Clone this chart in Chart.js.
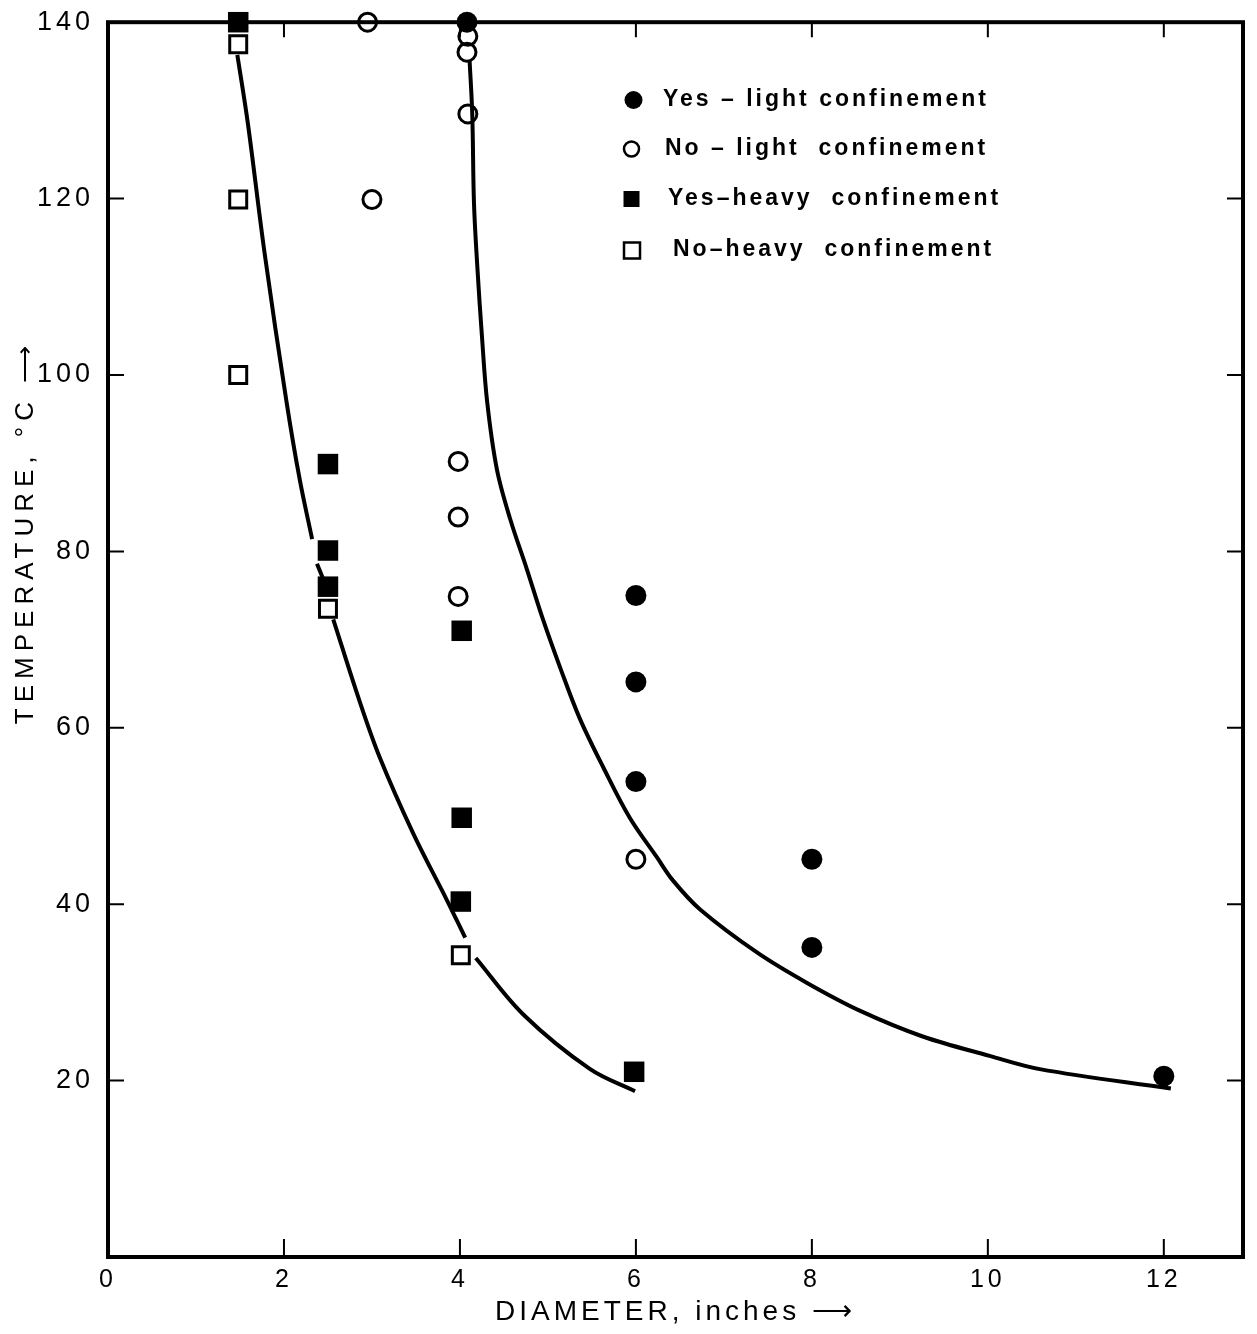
<!DOCTYPE html>
<html><head><meta charset="utf-8">
<script src="https://cdn.jsdelivr.net/npm/chart.js@4/dist/chart.umd.min.js"></script>
<style>html,body{margin:0;padding:0;background:#fff}</style>
</head><body>
<canvas id="c" width="1257" height="1334"></canvas>
<script>
// ---- data ----
const xTickValues = [0, 2, 4, 6, 8, 10, 12];
const yTickValues = [20, 40, 60, 80, 100, 120, 140];

const yesLightX = [4.08, 6.0, 6.0, 6.0, 8.0, 8.0, 12.0];
const yesLightY = [140, 75, 65.2, 53.9, 45.1, 35.1, 20.5];

const noLightX = [2.95, 4.09, 4.08, 4.09, 3.0, 3.98, 3.98, 3.98, 6.0];
const noLightY = [140, 138.4, 136.6, 129.6, 119.9, 90.2, 83.9, 74.9, 45.1];

const yesHeavyX = [1.48, 2.5, 2.5, 2.5, 4.02, 4.02, 4.01, 5.98];
const yesHeavyY = [140, 89.9, 80.1, 76.0, 71.0, 49.8, 40.3, 21.0];

const noHeavyX = [1.48, 1.48, 1.48, 2.5, 4.01];
const noHeavyY = [137.5, 119.9, 100.0, 73.5, 34.2];

// fitted curves as drawn (null = break in the drawn line)
const lowerCurveX = [1.47, 1.59, 1.78, 2.03, 2.18, 2.32, 2.35, 2.375, 2.44, 2.50, 2.56, 2.86, 3.09, 3.47, 3.85, 4.06, 4.12, 4.18, 4.72, 5.48, 5.99];
const lowerCurveY = [136.3, 128.5, 113.8, 96.9, 88.1, 81.4, null, 78.6, 77.0, null, 72.3, 63.0, 56.6, 48.0, 40.5, 36.2, null, 33.9, 27.5, 21.3, 18.8];

const upperCurveX = [4.11, 4.14, 4.16, 4.20, 4.25, 4.31, 4.42, 4.57, 4.76, 4.94, 5.14, 5.36, 5.63, 5.93, 6.24, 6.42, 6.73, 7.38, 7.94, 8.55, 9.26, 10.02, 10.59, 12.08];
const upperCurveY = [135.6, 129.6, 119.4, 111.9, 104.4, 96.9, 89.3, 83.7, 78.0, 72.4, 66.8, 61.1, 55.5, 49.8, 45.3, 42.7, 39.4, 34.5, 31.1, 27.9, 25.0, 22.8, 21.3, 19.1];

const seriesLabels = ["Yes \u2013 light confinement", "No \u2013 light  confinement", "Yes\u2013heavy  confinement", "No\u2013heavy  confinement"];
const xTitle = "DIAMETER, inches \u27F6";
const yTitle = "TEMPERATURE, \u00B0C \u27F6";

// ---- build datasets ----
const pts = (xs, ys) => xs.map((x, i) => ({x: x, y: ys[i]}));
const FONT = "'Liberation Sans', Arial, sans-serif";

const datasets = [
  {label: seriesLabels[0], data: pts(yesLightX, yesLightY), pointStyle: 'circle', pointRadius: 10.5,
   backgroundColor: '#000', borderColor: '#000', borderWidth: 0, showLine: false, clip: false},
  {label: seriesLabels[1], data: pts(noLightX, noLightY), pointStyle: 'circle', pointRadius: 9,
   backgroundColor: 'rgba(0,0,0,0)', borderColor: '#000', borderWidth: 3, showLine: false, clip: false},
  {label: seriesLabels[2], data: pts(yesHeavyX, yesHeavyY), pointStyle: 'rect', pointRadius: 14.5,
   backgroundColor: '#000', borderColor: '#000', borderWidth: 0, showLine: false, clip: false},
  {label: seriesLabels[3], data: pts(noHeavyX, noHeavyY), pointStyle: 'rect', pointRadius: 12,
   backgroundColor: 'rgba(0,0,0,0)', borderColor: '#000', borderWidth: 3, showLine: false, clip: false},
  {label: 'lower', data: pts(lowerCurveX, lowerCurveY), showLine: true, spanGaps: false, pointRadius: 0,
   borderColor: '#000', borderWidth: 4, tension: 0.35, fill: false},
  {label: 'upper', data: pts(upperCurveX, upperCurveY), showLine: true, pointRadius: 0,
   borderColor: '#000', borderWidth: 4, tension: 0.35, fill: false}
];

const framePlugin = {
  id: 'frame',
  beforeDraw(chart) {
    chart.ctx.letterSpacing = '4px';
  },
  afterDraw(chart) {
    const ctx = chart.ctx, a = chart.chartArea;
    const xs = chart.scales.x, ys = chart.scales.y;
    ctx.save();
    ctx.letterSpacing = '0px';
    ctx.strokeStyle = '#000';
    ctx.lineWidth = 4;
    ctx.strokeRect(a.left, a.top, a.right - a.left, a.bottom - a.top);
    ctx.lineWidth = 2;
    ctx.beginPath();
    xTickValues.forEach(v => {
      if (v === 0) return;
      const px = xs.getPixelForValue(v);
      ctx.moveTo(px, a.bottom); ctx.lineTo(px, a.bottom - 18);
      ctx.moveTo(px, a.top); ctx.lineTo(px, a.top + 15);
    });
    yTickValues.forEach(v => {
      const py = ys.getPixelForValue(v);
      ctx.moveTo(a.left, py); ctx.lineTo(a.left + 16, py);
      ctx.moveTo(a.right, py); ctx.lineTo(a.right - 16, py);
    });
    ctx.stroke();

    // legend
    const lx = xs.getPixelForValue(5.95);
    const rowsY = [100, 149, 199, 250];
    const textX = [663, 665, 668, 673];
    ctx.letterSpacing = '3px';
    ctx.font = 'bold 23px ' + FONT;
    ctx.textBaseline = 'middle';
    ctx.textAlign = 'left';
    ctx.fillStyle = '#000';
    seriesLabels.forEach((lab, i) => {
      const y = rowsY[i];
      ctx.beginPath();
      if (i === 0) { ctx.arc(lx + 2, y, 9, 0, Math.PI * 2); ctx.fill(); }
      else if (i === 1) { ctx.lineWidth = 2.5; ctx.arc(lx, y, 7.5, 0, Math.PI * 2); ctx.stroke(); }
      else if (i === 2) { ctx.fillRect(lx - 8, y - 8, 16, 16); }
      else { ctx.lineWidth = 2.5; ctx.strokeRect(lx - 7.5, y - 7.5, 16, 16); }
      ctx.fillText(lab, textX[i], y);
    });

    // y title
    ctx.letterSpacing = '6px';
    ctx.font = '26px ' + FONT;
    ctx.translate(26, 532);
    ctx.rotate(-Math.PI / 2);
    ctx.textAlign = 'center';
    ctx.fillText(yTitle, 0, 0);
    ctx.restore();
  }
};

new Chart(document.getElementById('c'), {
  type: 'scatter',
  data: {datasets: datasets},
  options: {
    responsive: false,
    devicePixelRatio: 1,
    animation: false,
    layout: {autoPadding: false, padding: {top: 13, right: 14, left: 0, bottom: 0}},
    plugins: {legend: {display: false}, tooltip: {enabled: false}},
    scales: {
      x: {
        type: 'linear', min: 0, max: 12.9,
        afterFit(s) { s.height = 77; },
        afterBuildTicks(s) { s.ticks = xTickValues.map(v => ({value: v})); },
        grid: {display: false}, border: {display: false},
        ticks: {color: '#000', font: {family: FONT, size: 25}, padding: 0, maxRotation: 0},
        title: {display: true, text: xTitle, color: '#000', font: {family: FONT, size: 28}, padding: {top: 0, bottom: 5}}
      },
      y: {
        type: 'linear', min: 0, max: 140,
        afterFit(s) { s.width = 108; },
        afterBuildTicks(s) { s.ticks = yTickValues.map(v => ({value: v})); },
        grid: {display: false}, border: {display: false},
        ticks: {color: '#000', font: {family: FONT, size: 27}, padding: 6}
      }
    }
  },
  plugins: [framePlugin]
});
</script>
</body></html>
